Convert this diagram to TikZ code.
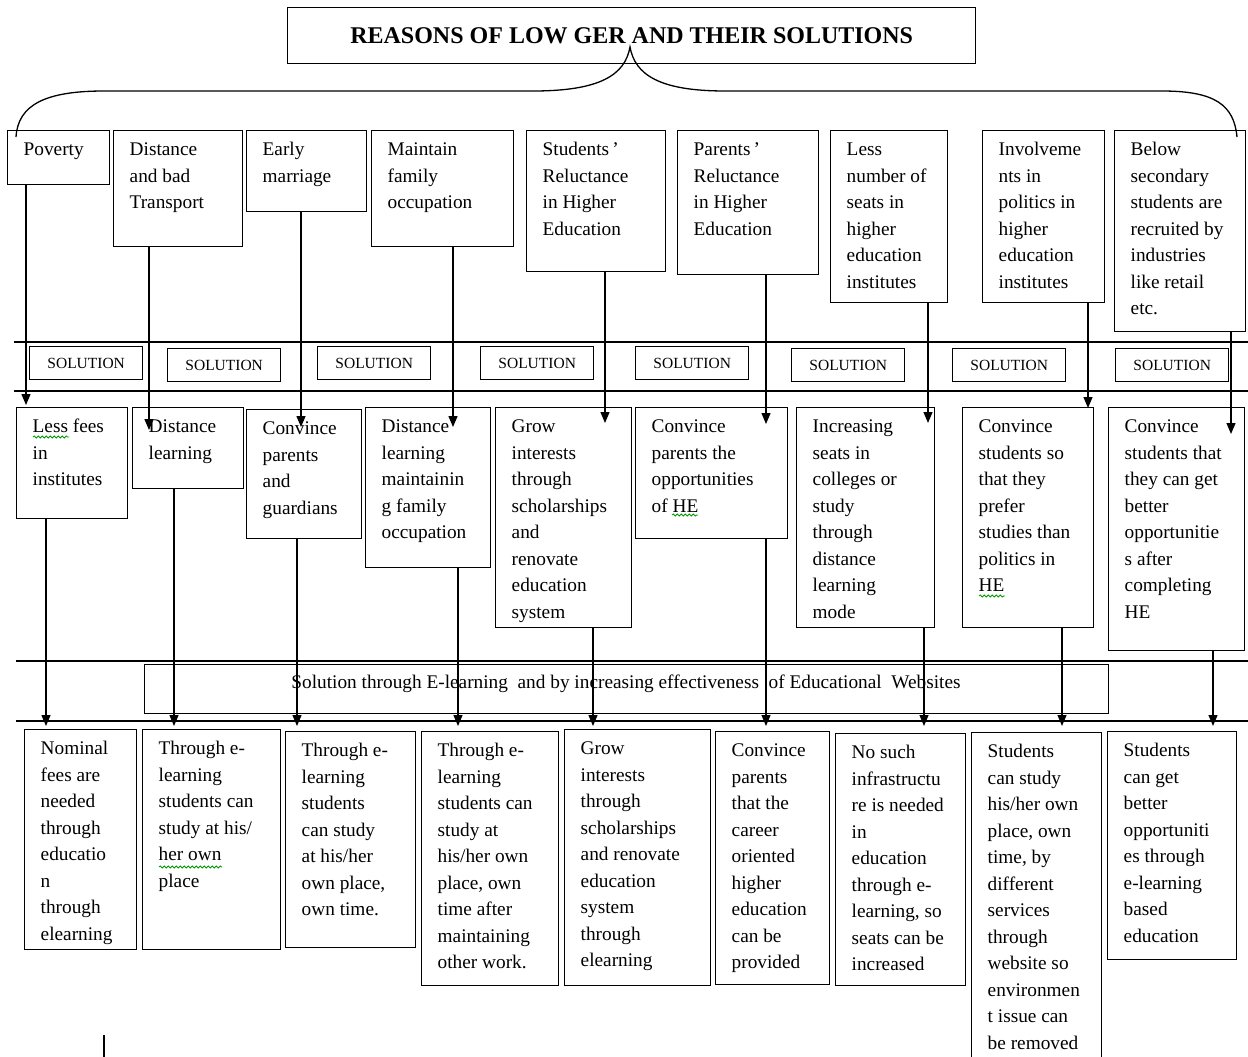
\documentclass[tikz,border=0pt]{standalone}
\usepackage{fontspec}
\setmainfont{Liberation Serif}
\usetikzlibrary{arrows.meta,decorations.pathmorphing}
\newcommand\mybox[6]{%
  \node[bx, minimum width=#4pt, minimum height=#5pt, anchor=north west] (#1) at (#2,#3) {};
  \node[txt, anchor=north west] (#1t) at (#2+16.5,#3+7) {\strut #6};}
\newcommand\solbx[3]{%
  \node[sb, anchor=north west] (#1) at (#2,#3) {SOLUTION};}
\tikzset{
  bx/.style={draw, line width=1.4pt, inner sep=0pt},
  txt/.style={inner sep=0pt, align=left, font=\fontsize{19.3}{26.5}\selectfont},
  sb/.style={draw, line width=1.4pt, inner sep=0pt, minimum width=113pt, minimum height=33pt, font=\fontsize{15.5}{18}\selectfont},
  arr/.style={line width=1.3pt, -{Triangle[width=9pt,length=11pt]}},
  band/.style={line width=1.4pt},
  spell/.style={draw=green!60!black, line width=0.8pt, decorate, decoration={snake, segment length=4pt, amplitude=1.1pt}}
}
\begin{document}
\begin{tikzpicture}[x=1pt,y=-1pt]
\fill[white] (0,0) rectangle (1248,1057);
\useasboundingbox (0,0) rectangle (1248,1057);

% title
\node[bx, minimum width=688pt, minimum height=56pt, anchor=north west, font=\fontsize{24}{28}\selectfont\bfseries] (title) at (287,7) {REASONS OF LOW GER AND THEIR SOLUTIONS};

% reasons
\mybox{r1}{7}{130}{102}{54}{Poverty}
\mybox{r2}{113}{130}{129}{116}{Distance\\and bad\\Transport}
\mybox{r3}{246}{130}{120}{81}{Early\\marriage}
\mybox{r4}{371}{130}{142}{116}{Maintain\\family\\occupation}
\mybox{r5}{526}{130}{139}{141}{Students\,’\\Reluctance\\in Higher\\Education}
\mybox{r6}{677}{130}{141}{144}{Parents\,’\\Reluctance\\in Higher\\Education}
\mybox{r7}{830}{130}{117}{172}{Less\\number of\\seats in\\higher\\education\\institutes}
\mybox{r8}{982}{130}{122}{172}{Involveme\\nts in\\politics in\\higher\\education\\institutes}
\mybox{r9}{1114}{130}{131}{201}{Below\\secondary\\students are\\recruited by\\industries\\like retail\\etc.}

% brace
\coordinate (brl) at (16,137);
\coordinate (brr) at (1237,137);
\coordinate (tip) at (630,47);
\draw[line width=1.3pt] (brl) .. controls (18,105) and (45,91) .. (104,91) -- (533,91)
  .. controls (600,91) and (625,75) .. (tip)
  .. controls (635,75) and (660,91) .. (725,91) -- (1162,91)
  .. controls (1215,91) and (1234,105) .. (brr);

% solution band
\draw[band] (14,342) -- (1248,342);
\draw[band] (14,391) -- (1248,391);
\solbx{k1}{29}{346}
\solbx{k2}{167}{348}
\solbx{k3}{317}{346}
\solbx{k4}{480}{346}
\solbx{k5}{635}{346}
\solbx{k6}{791}{348}
\solbx{k7}{952}{348}
\solbx{k8}{1115}{348}

% solutions
\mybox{s1}{16}{407}{111}{111}{Less fees\\in\\institutes}
\mybox{s2}{132}{407}{111}{81}{Distance\\learning}
\mybox{s3}{246}{409}{115}{129}{Convince\\parents\\and\\guardians}
\mybox{s4}{365}{407}{125}{160}{Distance\\learning\\maintainin\\g family\\occupation}
\mybox{s5}{495}{407}{136}{220}{Grow\\interests\\through\\scholarships\\and\\renovate\\education\\system}
\mybox{s6}{635}{407}{152}{131}{Convince\\parents the\\opportunities\\of HE}
\mybox{s7}{796}{407}{138}{220}{Increasing\\seats in\\colleges or\\study\\through\\distance\\learning\\mode}
\mybox{s8}{962}{407}{131}{220}{Convince\\students so\\that they\\prefer\\studies than\\politics in\\HE}
\mybox{s9}{1108}{407}{136}{243}{Convince\\students that\\they can get\\better\\opportunitie\\s after\\completing\\HE}

% spell-check marks
\draw[spell] (33,437) -- (69,437);
\draw[spell] (672,515) -- (698,515);
\draw[spell] (979,596) -- (1005,596);
\draw[spell] (159,867) -- (222,867);

% arrows reasons -> solutions
\coordinate (a1) at (26,405);
\coordinate (a2) at (149,430);
\coordinate (a3) at (301,427);
\coordinate (a4) at (453,427);
\coordinate (a5) at (605,423);
\coordinate (a6) at (766,424);
\coordinate (a7) at (928,423);
\coordinate (a8) at (1088,408);
\coordinate (a9) at (1231,434);
\foreach \i in {1,...,9} {\draw[arr] (r\i.south -| a\i) -- (a\i);}

% e-learning band
\draw[band] (16,661) -- (1248,661);
\draw[band] (16,721) -- (1248,721);
\node[bx, minimum width=964pt, minimum height=49pt, anchor=north west] (ebox) at (144,664) {};
\node[inner sep=0pt, anchor=base, font=\fontsize{19.3}{24}\selectfont] (etxt) at (626,688) {Solution through E-learning\ \ and by increasing\ effectiveness\ \ of Educational\ \ Websites};

% bottom row
\mybox{b1}{24}{729}{112}{220}{Nominal\\fees are\\needed\\through\\educatio\\n\\through\\elearning}
\mybox{b2}{142}{729}{138}{220}{Through e-\\learning\\students can\\study at his/\\her own\\place}
\mybox{b3}{285}{731}{130}{216}{Through e-\\learning\\students\\can study\\at his/her\\own place,\\own time.}
\mybox{b4}{421}{731}{137}{254}{Through e-\\learning\\students can\\study at\\his/her own\\place, own\\time after\\maintaining\\other work.}
\mybox{b5}{564}{729}{146}{256}{Grow\\interests\\through\\scholarships\\and renovate\\education\\system\\through\\elearning}
\mybox{b6}{715}{731}{114}{253}{Convince\\parents\\that the\\career\\oriented\\higher\\education\\can be\\provided}
\mybox{b7}{835}{733}{130}{252}{No such\\infrastructu\\re is needed\\in\\education\\through e-\\learning, so\\seats can be\\increased}
\mybox{b8}{971}{732}{130}{340}{Students\\can study\\his/her own\\place, own\\time, by\\different\\services\\through\\website so\\environmen\\t issue can\\be removed}
\mybox{b9}{1107}{731}{129}{228}{Students\\can get\\better\\opportuniti\\es through\\e-learning\\based\\education}

% arrows solutions -> bottom
\coordinate (c1) at (46,726);
\coordinate (c2) at (174,726);
\coordinate (c3) at (297,726);
\coordinate (c4) at (458,726);
\coordinate (c5) at (593,726);
\coordinate (c6) at (766,726);
\coordinate (c7) at (924,726);
\coordinate (c8) at (1062,726);
\coordinate (c9) at (1213,726);
\foreach \i in {1,...,9} {\draw[arr] (s\i.south -| c\i) -- (c\i);}

% stray mark
\draw[line width=2.6pt] (104,1035) -- (104,1057);
\end{tikzpicture}
\end{document}
